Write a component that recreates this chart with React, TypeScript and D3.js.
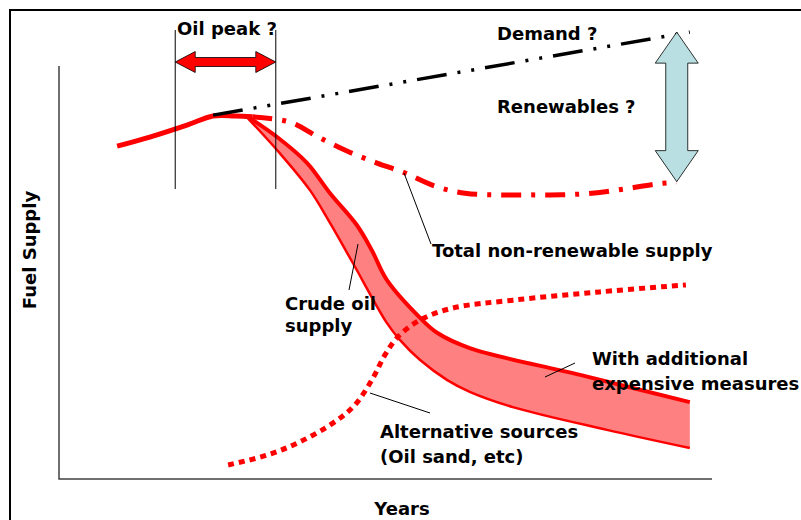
import { useEffect, useRef } from "react";
import * as d3 from "d3";

type Pt = [number, number];

// Conceptual curves, x = years (0-100 along the axis), y = fuel supply (0-100 up the axis)
const historySupply: Pt[] = [
  [8.9, 80.6], [13.9, 82.8], [19.6, 85.7], [23.6, 87.9], [27.0, 87.9], [29.6, 87.7],
];
const demandLine: Pt[] = [[23.6, 88.1], [96.6, 108.2]];
const totalNonRenewable: Pt[] = [
  [29.6, 87.7], [35.4, 86.4], [39.7, 82.8], [44.1, 79.4], [48.7, 76.5], [53.0, 74.1],
  [57.6, 70.9], [62.2, 69.2], [67.2, 68.8], [72.1, 68.8], [76.9, 68.8], [81.6, 69.2],
  [86.5, 70.2], [91.3, 71.4], [94.6, 71.9],
];
const withMeasures: Pt[] = [
  [29.2, 87.4], [33.4, 82.8], [38.0, 76.5], [41.5, 69.2], [45.6, 61.5], [47.9, 55.4],
  [50.2, 48.2], [55.3, 39.0], [57.9, 35.4], [62.9, 31.7], [79.8, 25.2], [96.6, 18.6],
];
const crudeOil: Pt[] = [
  [28.9, 87.4], [33.8, 78.9], [38.4, 70.0], [41.5, 62.0], [45.0, 52.3], [50.2, 37.8],
  [52.2, 33.7], [55.3, 28.8], [59.4, 24.0], [62.9, 21.1], [69.5, 17.4], [83.9, 11.9],
  [96.6, 7.5],
];
const alternativeSources: Pt[] = [
  [25.9, 3.4], [31.9, 5.8], [36.9, 9.0], [42.0, 13.6], [45.3, 17.9], [48.1, 24.5],
  [49.9, 30.0], [51.9, 34.4], [55.3, 38.5], [60.3, 41.4], [69.5, 43.3], [82.8, 45.3],
  [96.0, 47.0],
];
const peakWindow = [17.8, 33.2];
const renewablesGap = { x: 94.6, from: 108.2, to: 72.0 };

const labels = [
  { lines: ["Oil peak ?"], x: 177, y: 35, lh: 0 },
  { lines: ["Demand ?"], x: 497, y: 40, lh: 0 },
  { lines: ["Renewables ?"], x: 497, y: 113, lh: 0 },
  { lines: ["Total non-renewable supply"], x: 432, y: 257, lh: 0 },
  { lines: ["Crude oil", "supply"], x: 285, y: 310, lh: 22 },
  { lines: ["With additional", "expensive measures"], x: 592, y: 365, lh: 25 },
  { lines: ["Alternative sources", "(Oil sand, etc)"], x: 380, y: 438, lh: 25 },
];
// leader lines: [from pixel, to pixel]
const leaders: [Pt, Pt][] = [
  [[404, 173], [431, 244]],
  [[349, 290], [358, 244]],
  [[545, 377], [575, 363]],
  [[370, 393], [430, 413]],
];

export default function App() {
  const svgRef = useRef<SVGSVGElement>(null);

  useEffect(() => {
    if (!svgRef.current) return;
    const width = 801;
    const height = 520;
    const svg = d3.select(svgRef.current);
    svg.selectAll("*").remove();
    svg.attr("width", width).attr("height", height);

    const x = d3.scaleLinear().domain([0, 100]).range([59, 712]);
    const y = d3.scaleLinear().domain([0, 100]).range([479, 66]);
    const font = "'DejaVu Sans', Verdana, sans-serif";

    // outer frame
    svg.append("rect")
      .attr("x", 10).attr("y", 10)
      .attr("width", 800).attr("height", 520)
      .attr("fill", "none").attr("stroke", "#000").attr("stroke-width", 2);

    // axes
    svg.append("path")
      .attr("d", `M${x(0)},${y(100)}V${y(0)}H${x(100)}`)
      .attr("fill", "none").attr("stroke", "#404040").attr("stroke-width", 1.5);

    const curve = d3.line<Pt>()
      .x((d) => x(d[0]))
      .y((d) => y(d[1]))
      .curve(d3.curveCatmullRom.alpha(0.5));

    // band between crude oil and additional measures
    const upperPath = curve(withMeasures) as string;
    const lowerRev = (curve([...crudeOil].reverse()) as string).replace(/^M/, "L");
    svg.append("path")
      .attr("d", upperPath + lowerRev + "Z")
      .attr("fill", "#ff8080").attr("stroke", "none");
    svg.append("path").attr("d", upperPath)
      .attr("fill", "none").attr("stroke", "#ff0000").attr("stroke-width", 4);
    svg.append("path").attr("d", curve(crudeOil))
      .attr("fill", "none").attr("stroke", "#ff0000").attr("stroke-width", 2.5);

    // historic supply
    svg.append("path").attr("d", curve(historySupply))
      .attr("fill", "none").attr("stroke", "#ff0000").attr("stroke-width", 5);

    // demand
    svg.append("path").attr("d", curve(demandLine))
      .attr("fill", "none").attr("stroke", "#000").attr("stroke-width", 3.5)
      .attr("stroke-dasharray", "30,11,3,11,3,11");

    // total non-renewable
    svg.append("path").attr("d", curve(totalNonRenewable))
      .attr("fill", "none").attr("stroke", "#ff0000").attr("stroke-width", 5)
      .attr("stroke-dasharray", "20,10,4,10");

    // alternative sources
    svg.append("path").attr("d", curve(alternativeSources))
      .attr("fill", "none").attr("stroke", "#ff0000").attr("stroke-width", 5)
      .attr("stroke-dasharray", "6,5");

    // oil peak window
    peakWindow.forEach((v) => {
      svg.append("line")
        .attr("x1", x(v)).attr("x2", x(v))
        .attr("y1", 30).attr("y2", 189)
        .attr("stroke", "#000").attr("stroke-width", 1);
    });
    const ax0 = x(peakWindow[0]);
    const ax1 = x(peakWindow[1]);
    const ay = 62;
    const hl = 20, hh = 10.5, sh = 4.5;
    svg.append("path")
      .attr("d", `M${ax0},${ay}L${ax0 + hl},${ay - hh}V${ay - sh}H${ax1 - hl}V${ay - hh}L${ax1},${ay}L${ax1 - hl},${ay + hh}V${ay + sh}H${ax0 + hl}V${ay + hh}Z`)
      .attr("fill", "#ff0000").attr("stroke", "#000").attr("stroke-width", 0.8);

    // renewables gap arrow
    const bx = x(renewablesGap.x);
    const by0 = y(renewablesGap.from);
    const by1 = y(renewablesGap.to);
    const vl = 31, vw = 21.5, sw = 11;
    svg.append("path")
      .attr("d", `M${bx},${by0}L${bx + vw},${by0 + vl}H${bx + sw}V${by1 - vl}H${bx + vw}L${bx},${by1}L${bx - vw},${by1 - vl}H${bx - sw}V${by0 + vl}H${bx - vw}Z`)
      .attr("fill", "#b9dfe2").attr("stroke", "#000").attr("stroke-width", 0.8);

    // leader lines
    leaders.forEach(([a, b]) => {
      svg.append("line")
        .attr("x1", a[0]).attr("y1", a[1]).attr("x2", b[0]).attr("y2", b[1])
        .attr("stroke", "#000").attr("stroke-width", 1);
    });

    // labels
    labels.forEach((l) => {
      const t = svg.append("text")
        .attr("x", l.x).attr("y", l.y)
        .attr("font-family", font).attr("font-weight", "bold")
        .attr("font-size", 18).attr("fill", "#000");
      l.lines.forEach((s, i) => {
        t.append("tspan").attr("x", l.x).attr("dy", i === 0 ? 0 : l.lh).text(s);
      });
    });

    svg.append("text")
      .attr("x", 402).attr("y", 515)
      .attr("text-anchor", "middle")
      .attr("font-family", font).attr("font-weight", "bold").attr("font-size", 18)
      .text("Years");

    svg.append("text")
      .attr("transform", "translate(36,250) rotate(-90)")
      .attr("text-anchor", "middle")
      .attr("font-family", font).attr("font-weight", "bold").attr("font-size", 18)
      .text("Fuel Supply");
  }, []);

  return (
    <svg
      ref={svgRef}
      style={{ position: "absolute", left: 0, top: 0, display: "block" }}
    ></svg>
  );
}
